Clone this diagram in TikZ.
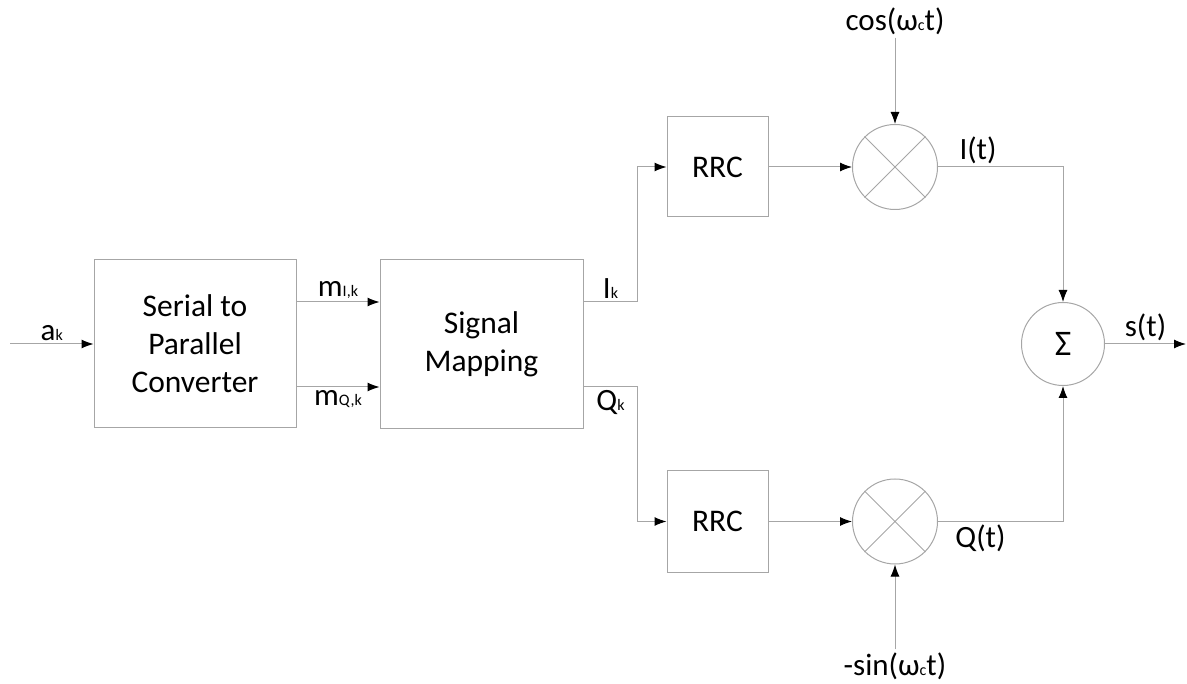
\documentclass[tikz,border=0pt]{standalone}
\usepackage{fontspec}
\setmainfont{Carlito}
\usetikzlibrary{calc}
\usetikzlibrary{arrows.meta}
\usetikzlibrary{positioning}
\definecolor{wiregray}{HTML}{A6A6A6}
\tikzstyle{block}=[draw=wiregray, line width=1pt, align=center, inner sep=0pt, font={\fontsize{31.5}{38}\selectfont}]
\tikzstyle{mixer}=[draw=wiregray, line width=1pt, circle, minimum size=85pt, inner sep=0pt]
\tikzstyle{wire}=[draw=wiregray, line width=1pt, -{Latex[length=12pt, width=9pt, color=black]}]
\tikzstyle{lbl}=[font={\fontsize{31}{33}\selectfont}, inner sep=3pt]
\newcommand{\lowidx}[1]{{\fontsize{16}{16}\selectfont #1}}

\begin{document}
\begin{tikzpicture}[x=1pt, y=-1pt]

    \useasboundingbox (0, 0) rectangle (1187, 684);

    \node[block, minimum width=202pt, minimum height=168pt] (sp) at (195, 344) {Serial to\\Parallel\\Converter};
    \node[block, minimum width=203pt, minimum height=169pt] (map) at (481.5, 344) {Signal\\Mapping};

    \node[block, minimum width=101pt, minimum height=100pt] (rrcI) at (717.5, 167) {RRC};
    \node[block, minimum width=101pt, minimum height=101pt] (rrcQ) at (717.5, 521.5) {RRC};

    \node[mixer] (mixI) at (895, 167) {};
    \node[mixer] (mixQ) at (895, 521.5) {};
    \draw[wiregray, line width=1pt] (mixI.north west) -- (mixI.south east) (mixI.north east) -- (mixI.south west);
    \draw[wiregray, line width=1pt] (mixQ.north west) -- (mixQ.south east) (mixQ.north east) -- (mixQ.south west);

    \node[mixer, minimum size=83pt] (sum) at (1063, 344) {\fontsize{36}{36}\selectfont Σ};

    \node[lbl] (cosin) at (895, 21) {cos(ω\lowidx{c}t)};
    \node[lbl] (sinin) at (895, 666) {-sin(ω\lowidx{c}t)};

    \coordinate (in) at (10, 344);
    \coordinate (out) at (1186, 344);

    \draw[wire] (in) -- node[lbl, above] {a\lowidx{k}} (sp);

    \draw[wire] ([yshift=42pt]sp.east) -- node[lbl, above] {m\lowidx{I,k}} ([yshift=42pt]map.west);
    \draw[wire] ([yshift=-43pt]sp.east) -- node[lbl, below] {m\lowidx{Q,k}} ([yshift=-43pt]map.west);

    \draw[wire] ([yshift=42pt]map.east) -- node[lbl, above] {I\lowidx{k}} ++(54, 0) |- (rrcI.west);
    \draw[wire] ([yshift=-43pt]map.east) -- node[lbl, below] {Q\lowidx{k}} ++(54, 0) |- (rrcQ.west);

    \draw[wire] (rrcI) -- (mixI);
    \draw[wire] (rrcQ) -- (mixQ);
    \draw[wire] (cosin) -- (mixI);
    \draw[wire] (sinin) -- (mixQ);

    \draw[wire] (mixI.east) -| node[lbl, above, pos=0.16] {I(t)} (sum.north);
    \draw[wire] (mixQ.east) -| node[lbl, below, pos=0.17] {Q(t)} (sum.south);

    \draw[wire] (sum) -- node[lbl, above] {s(t)} (out);

\end{tikzpicture}
\end{document}
